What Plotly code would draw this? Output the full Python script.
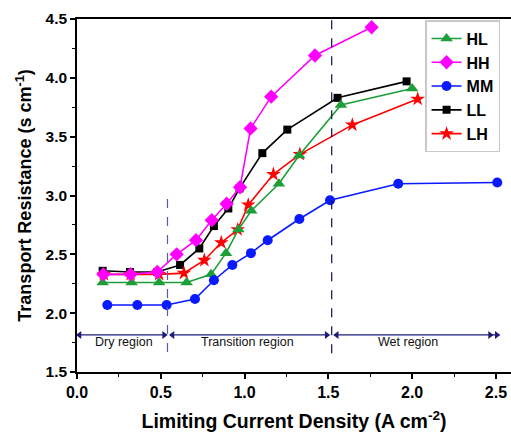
import plotly.graph_objects as go

# ---- data ----
hl_x = [0.153, 0.326, 0.49, 0.654, 0.80, 0.889, 0.963, 1.04, 1.205, 1.325, 1.575, 2.0]
hl_y = [2.26, 2.26, 2.26, 2.26, 2.33, 2.51, 2.71, 2.87, 3.10, 3.34, 3.77, 3.91]

hh_x = [0.157, 0.32, 0.479, 0.595, 0.71, 0.804, 0.893, 0.973, 1.036, 1.159, 1.42, 1.758]
hh_y = [2.33, 2.33, 2.35, 2.50, 2.62, 2.79, 2.93, 3.07, 3.57, 3.84, 4.19, 4.43]

mm_x = [0.181, 0.36, 0.535, 0.704, 0.817, 0.927, 1.038, 1.138, 1.327, 1.51, 1.917, 2.508]
mm_y = [2.07, 2.07, 2.07, 2.12, 2.28, 2.41, 2.51, 2.62, 2.80, 2.96, 3.10, 3.11]

ll_x = [0.153, 0.316, 0.479, 0.615, 0.73, 0.817, 0.903, 0.97, 1.106, 1.255, 1.555, 1.967]
ll_y = [2.36, 2.35, 2.35, 2.41, 2.55, 2.74, 2.89, 3.06, 3.36, 3.56, 3.83, 3.97]

lh_x = [0.16, 0.32, 0.49, 0.638, 0.76, 0.861, 0.959, 1.022, 1.172, 1.33, 1.643, 2.033]
lh_y = [2.33, 2.33, 2.33, 2.34, 2.45, 2.60, 2.71, 2.92, 3.18, 3.35, 3.60, 3.82]

# region annotation
region_starts = [0.0, 0.555, 1.535]
region_ends = [0.535, 1.505, 2.52]
region_labels = ["Dry region", "Transition region", "Wet region"]
region_label_x = [0.28, 1.015, 1.975]
region_arrow_y = 1.815
region_text_y = 1.752
divider_x = [0.54, 1.52]
divider_y0 = [1.67, 1.66]
divider_y1 = [2.98, 4.49]

FONT = "Arial, Liberation Sans, sans-serif"
ARROW_COL = "#1c1c78"

fig = go.Figure()

series = [
    # name, x, y, color, symbol, size, legendrank
    ("LL", ll_x, ll_y, "#000000", "square", 8, 4),
    ("LH", lh_x, lh_y, "#ff0000", "star", 11, 5),
    ("HL", hl_x, hl_y, "#1e9e38", "triangle-up", 11, 1),
    ("MM", mm_x, mm_y, "#0a1aff", "circle", 10, 3),
    ("HH", hh_x, hh_y, "#ff00ff", "diamond", 11, 2),
]
for name, xs, ys, col, sym, sz, rank in series:
    fig.add_trace(go.Scatter(
        x=xs, y=ys, name=name, mode="lines+markers",
        line=dict(color=col, width=1.6),
        marker=dict(symbol=sym, size=sz, color=col, line=dict(width=0)),
        legendrank=rank,
    ))

# dashed region separators
div_cols = ["#5a5aa8", "#10104a"]
for i in range(2):
    fig.add_shape(type="line", xref="x", yref="y", x0=divider_x[i], x1=divider_x[i],
                  y0=divider_y0[i], y1=divider_y1[i],
                  line=dict(color=div_cols[i], width=1.2, dash="dash"))

# region arrows (lines + triangle heads) and labels
for i, lab in enumerate(region_labels):
    a, b = region_starts[i], region_ends[i]
    fig.add_trace(go.Scatter(x=[a, b], y=[region_arrow_y, region_arrow_y], mode="lines",
                             line=dict(color=ARROW_COL, width=1.3), showlegend=False,
                             hoverinfo="skip"))
    fig.add_trace(go.Scatter(x=[a + 0.015], y=[region_arrow_y], mode="markers",
                             marker=dict(symbol="triangle-left", size=7, color=ARROW_COL),
                             showlegend=False, hoverinfo="skip"))
    heads = [b - 0.015] if i < 2 else [b - 0.055, b - 0.015]
    fig.add_trace(go.Scatter(x=heads, y=[region_arrow_y] * len(heads), mode="markers",
                             marker=dict(symbol="triangle-right", size=7, color=ARROW_COL),
                             showlegend=False, hoverinfo="skip"))
    fig.add_annotation(x=region_label_x[i], y=region_text_y, xref="x", yref="y", text=lab,
                       showarrow=False, font=dict(family=FONT, size=12.5, color="#111111"))

fig.update_layout(
    width=511, height=432,
    margin=dict(l=77, r=0, t=19, b=60),
    plot_bgcolor="white", paper_bgcolor="white",
    font=dict(family=FONT, color="black"),
    showlegend=True,
    legend=dict(x=0.802, y=0.997, xanchor="left", yanchor="top",
                bgcolor="white", bordercolor="#c8c8c8", borderwidth=1.5,
                font=dict(family=FONT, size=16, color="black", weight="bold"),
                tracegroupgap=0, itemwidth=30),
)
fig.update_xaxes(
    range=[0, 2.59], tickvals=[0, 0.5, 1.0, 1.5, 2.0, 2.5], tickformat=".1f",
    showline=True, linecolor="black", linewidth=1.6, mirror=True,
    ticks="outside", ticklen=5, tickwidth=1.6, tickcolor="black",
    minor=dict(dtick=0.25, tick0=0, ticks="outside", ticklen=3, tickwidth=1.2, tickcolor="black"),
    showgrid=False, zeroline=False,
    tickfont=dict(family=FONT, size=16, color="black", weight="bold"),
    title=dict(text="Limiting Current Density (A cm<sup>-2</sup>)", standoff=17,
               font=dict(family=FONT, size=19.5, color="black", weight="bold")),
)
fig.update_yaxes(
    range=[1.5, 4.5], tickvals=[1.5, 2.0, 2.5, 3.0, 3.5, 4.0, 4.5], tickformat=".1f",
    showline=True, linecolor="black", linewidth=1.6, mirror=False,
    ticks="outside", ticklen=5, tickwidth=1.6, tickcolor="black",
    minor=dict(dtick=0.25, tick0=1.5, ticks="outside", ticklen=3, tickwidth=1.2, tickcolor="black"),
    showgrid=False, zeroline=False,
    tickfont=dict(family=FONT, size=15.5, color="black", weight="bold"),
    title=dict(text="Transport Resistance (s cm<sup>-1</sup>)", standoff=9,
               font=dict(family=FONT, size=18, color="black", weight="bold")),
)

fig.write_html("out.html")
